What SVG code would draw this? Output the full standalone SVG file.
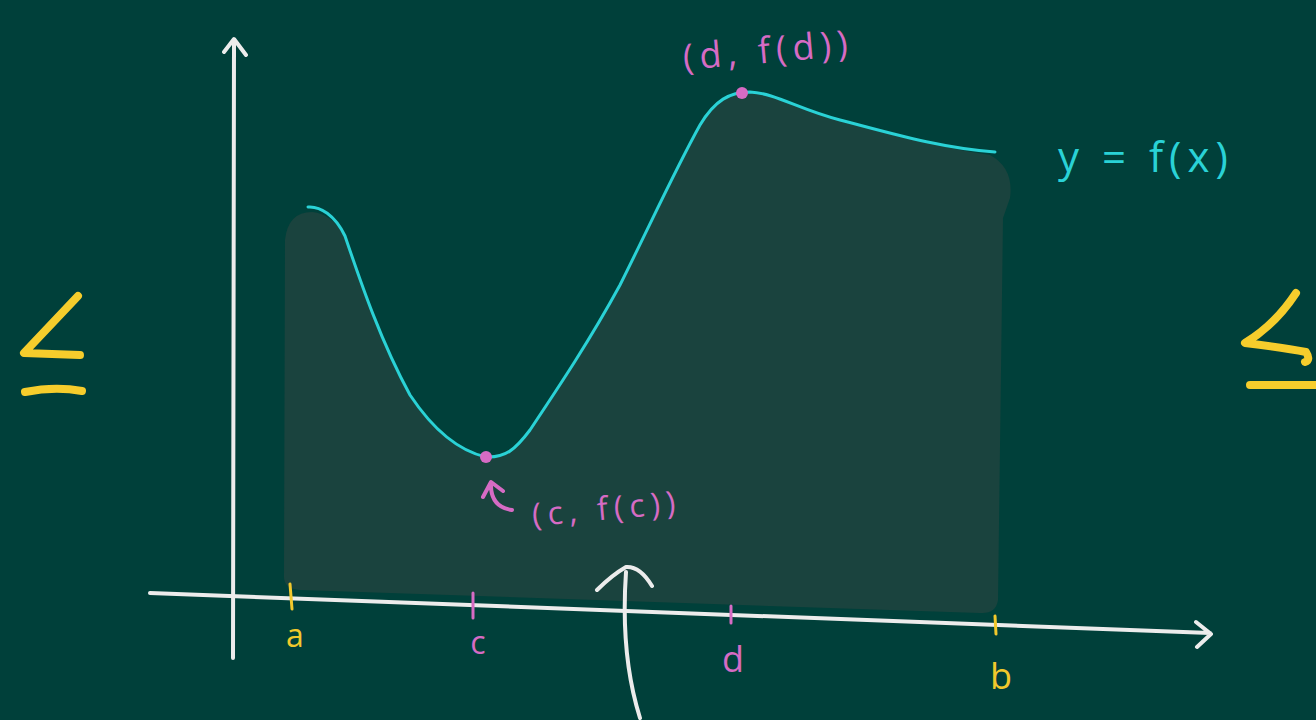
<svg xmlns="http://www.w3.org/2000/svg" width="1316" height="720" viewBox="0 0 1316 720">
<style>
.ax{fill:none;stroke:#ececec;stroke-width:4;stroke-linecap:round;stroke-linejoin:round}
.cv{fill:none;stroke:#2ad2d6;stroke-width:3;stroke-linecap:round}
.pk{fill:#d66bc4;font-family:"Open Sans","DejaVu Sans",sans-serif}
.yl{fill:#f1c82c;font-family:"Open Sans","DejaVu Sans",sans-serif}
.tky{stroke:#f1c82c;stroke-width:3;stroke-linecap:round}
.tkp{stroke:#d66bc4;stroke-width:3;stroke-linecap:round}
.le{fill:none;stroke:#f6cd2c;stroke-width:8;stroke-linecap:round;stroke-linejoin:round}
</style>
<rect width="1316" height="720" fill="#00403a"/>
<g id="region">
<path d="M284,575 L285,240 Q288,212 312,212 Q332,214 345,236 C360,280 380,340 410,395 C430,425 455,450 486,457 C505,458 515,450 530,430 C560,385 590,340 620,285 C650,225 675,170 700,125 C715,100 730,92 750,92 C775,93 800,110 840,120 C890,133 940,148 990,155 Q1014,168 1010,198 L1003,218 L998,600 Q996,614 980,613 L300,590 Q283,589 284,575 Z" fill="#1a433e"/>
</g>
<g id="connectors">
<path class="ax" d="M233,658 L234,40 M224,52 L234,39 L246,55"/>
<path class="ax" d="M150,593 L1210,633 M1196,622 L1211,634 L1197,647"/>
<path class="ax" d="M640,718 C628,680 622,630 626,572 M597,590 Q612,575 626,567 Q640,566 652,586"/>
<path d="M512,510 Q490,507 491,483 M483,497 L491,482 L503,491" fill="none" stroke="#d66bc4" stroke-width="4" stroke-linecap="round" stroke-linejoin="round"/>
</g>
<g id="curve">
<path class="cv" d="M308,207 C320,206 335,215 345,236 C360,280 380,340 410,395 C430,425 455,450 486,457 C505,458 515,450 530,430 C560,385 590,340 620,285 C650,225 675,170 700,125 C715,100 730,92 750,92 C775,93 800,110 840,120 C890,133 940,148 995,152"/>
</g>
<g id="ticks">
<line class="tky" x1="290" y1="584" x2="292" y2="609"/>
<line class="tkp" x1="473" y1="593" x2="473" y2="618"/>
<line class="tkp" x1="731" y1="606" x2="731" y2="623"/>
<line class="tky" x1="995" y1="616" x2="996" y2="634"/>
</g>
<g id="labels">
<text class="yl" x="295" y="647" font-size="32" text-anchor="middle">a</text>
<text class="pk" x="478" y="654" font-size="32" text-anchor="middle">c</text>
<text class="pk" x="733" y="672" font-size="36" text-anchor="middle">d</text>
<text class="yl" x="1001" y="689" font-size="36" text-anchor="middle">b</text>
</g>
<g id="point-c"><circle cx="486" cy="457" r="6" fill="#d66bc4"/>
<text class="pk" x="533" y="526" font-size="32" letter-spacing="6" transform="rotate(-5 533 526)">(c, f(c))</text></g>
<g id="point-d"><circle cx="742" cy="93" r="6" fill="#d66bc4"/>
<text class="pk" x="684" y="70" font-size="36" letter-spacing="6" transform="rotate(-5 684 70)">(d, f(d))</text></g>
<g id="fx"><text x="1058" y="172" font-size="42" letter-spacing="6" fill="#2ad2d6" font-family="'Open Sans','DejaVu Sans',sans-serif">y = f(x)</text></g>
<g id="le-left"><path class="le" d="M78,296 L24,353 L80,355 M25,392 Q55,386 82,391"/></g>
<g id="le-right"><path class="le" d="M1296,293 Q1275,325 1245,343 Q1285,348 1306,352 Q1311,360 1305,362 M1250,385 L1316,385"/></g>
</svg>
